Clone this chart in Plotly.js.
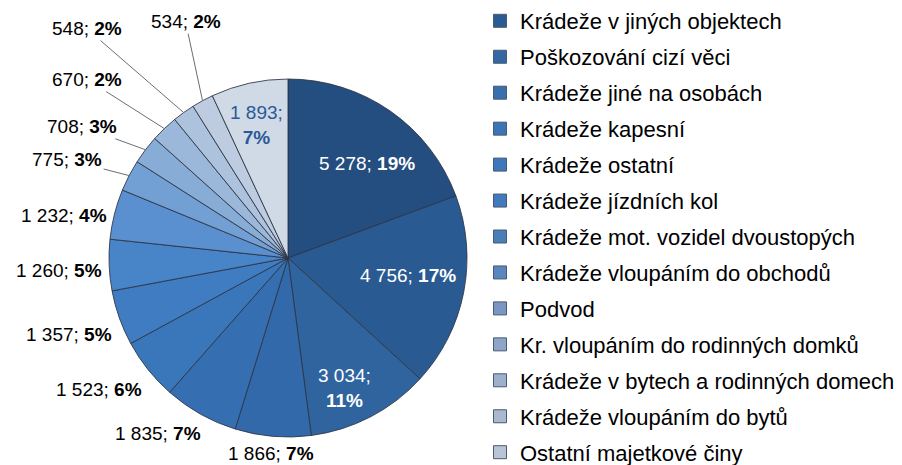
<!DOCTYPE html>
<html>
<head>
<meta charset="utf-8">
<script src="https://cdn.plot.ly/plotly-3.0.1.min.js"></script>
<style>html,body{margin:0;padding:0;background:#fff;}#chart{width:902px;height:465px;}</style>
</head>
<body>
<div id="chart"></div>
<script>
// Legend categories (as visible in the reference legend)
const categories = [
  "Krádeže v jiných objektech",
  "Poškozování cizí věci",
  "Krádeže jiné na osobách",
  "Krádeže kapesní",
  "Krádeže ostatní",
  "Krádeže jízdních kol",
  "Krádeže mot. vozidel dvoustopých",
  "Krádeže vloupáním do obchodů",
  "Podvod",
  "Kr. vloupáním do rodinných domků",
  "Krádeže v bytech a rodinných domech",
  "Krádeže vloupáním do bytů",
  "Ostatní majetkové činy"
];
// Slice values, clockwise from 12 o'clock
const values = [5278, 4756, 3034, 1866, 1835, 1523, 1357, 1260, 1232, 775, 708, 670, 548, 534, 1893];
// Percent labels as printed in the reference
const percents = [19, 17, 11, 7, 7, 6, 5, 5, 4, 3, 3, 2, 2, 2, 7];
const sliceIds = ["s1","s2","s3","s4","s5","s6","s7","s8","s9","s10","s11","s12","s13","s14","s15"];

// ---- styles / label layout (not data) ----
const sliceColors = ["#244d80","#2a5a92","#2f649f","#3169aa","#356fb2","#3a76ba","#3f7cc1","#4784c8",
  "#5a90d0","#729fd4","#87acd6","#9bb7d9","#adc2dc","#bdcce0","#d0d9e6"];
const legendColors = ["#2b5b95","#3567a3","#3a6fae","#3d74b5","#3f78ba","#417bbd","#4a7eb8","#5a86be",
  "#7a96c3","#8fa4c8","#9fb0cc","#abb9d0","#b9c4d6"];
// label offsets (px) from the rim point at each slice's mid angle; arrow = leader line
const labelOffsets = [
  [-23, 52, 0], [-56, -17, 0], [-26, -29, 0], [-2, 17, 0], [-42, 19, 0], [-49, 20, 0],
  [-50, 17, 0], [-50, 5, 0], [-50, 1, 0], [-62, -16, 1], [-63, -23, 1], [-77, -49, 1],
  [-97, -84, 1], [-17, -79, 1], [7, 42, 0]
];
const insideIdx = [0, 1, 2, 14];
const twoLine = [2, 14];
const textColors = values.map((v,i)=> i===14 ? "#2a5a96" : (insideIdx.includes(i) ? "#ffffff" : "#000000"));

const W = 902, H = 465;
const domX = [109/W, 467/W], domY = [28/H, 386/H];
const cx = (domX[0]+domX[1])/2*W;
const cy = H - (domY[0]+domY[1])/2*H;
const R = Math.min((domX[1]-domX[0])*W, (domY[1]-domY[0])*H)/2;

function fmt(v){ return String(v).replace(/\B(?=(\d{3})+(?!\d))/g, " "); }

const total = values.reduce((a,b)=>a+b, 0);
let cum = 0;
const annotations = values.map((v,i)=>{
  const mid = (cum + v/2)/total; cum += v;
  const ang = mid*2*Math.PI;
  const px = cx + R*Math.sin(ang), py = cy - R*Math.cos(ang);
  const [dx, dy, arrow] = labelOffsets[i];
  const sep = twoLine.includes(i) ? ";<br>" : "; ";
  const a = {
    xref: "paper", yref: "paper",
    x: px/W, y: 1 - py/H,
    text: fmt(v) + sep + "<b>" + percents[i] + "%</b>",
    font: {family: "Liberation Sans, Arial, sans-serif", size: 19, color: textColors[i]},
    align: "center"
  };
  if (arrow) {
    Object.assign(a, {showarrow: true, ax: dx, ay: dy, arrowhead: 0, arrowwidth: 1,
      arrowcolor: "#6e6e6e", standoff: 0, startstandoff: 0});
  } else {
    Object.assign(a, {showarrow: false, xshift: dx, yshift: -dy, xanchor: "center", yanchor: "middle"});
  }
  return a;
});

const pie = {
  type: "pie",
  labels: sliceIds,
  values: values,
  customdata: percents,
  sort: false,
  direction: "clockwise",
  rotation: 0,
  showlegend: false,
  textinfo: "none",
  marker: {colors: sliceColors, line: {color: "rgba(45,50,65,0.85)", width: 1}},
  hoverinfo: "skip",
  domain: {x: domX, y: domY}
};

const legendTraces = categories.map((c,i)=>({
  type: "scatter",
  mode: "markers",
  x: [null], y: [null],
  name: c,
  legendgroup: "g"+i,
  showlegend: true,
  marker: {symbol: "square", size: 13, color: legendColors[i], line: {color: "#4a5a70", width: 1}},
  hoverinfo: "skip"
}));

const layout = {
  width: W, height: H,
  margin: {l: 0, r: 0, t: 0, b: 0},
  paper_bgcolor: "#ffffff",
  plot_bgcolor: "#ffffff",
  xaxis: {visible: false},
  yaxis: {visible: false},
  showlegend: true,
  annotations: annotations,
  legend: {
    x: 480/W, xanchor: "left",
    y: 1, yanchor: "top",
    font: {family: "Liberation Sans, Arial, sans-serif", size: 22, color: "#000"},
    traceorder: "grouped",
    tracegroupgap: 4.35,
    bgcolor: "rgba(0,0,0,0)"
  }
};

Plotly.newPlot("chart", [pie].concat(legendTraces), layout, {displayModeBar: false, staticPlot: true});
</script>
</body>
</html>
